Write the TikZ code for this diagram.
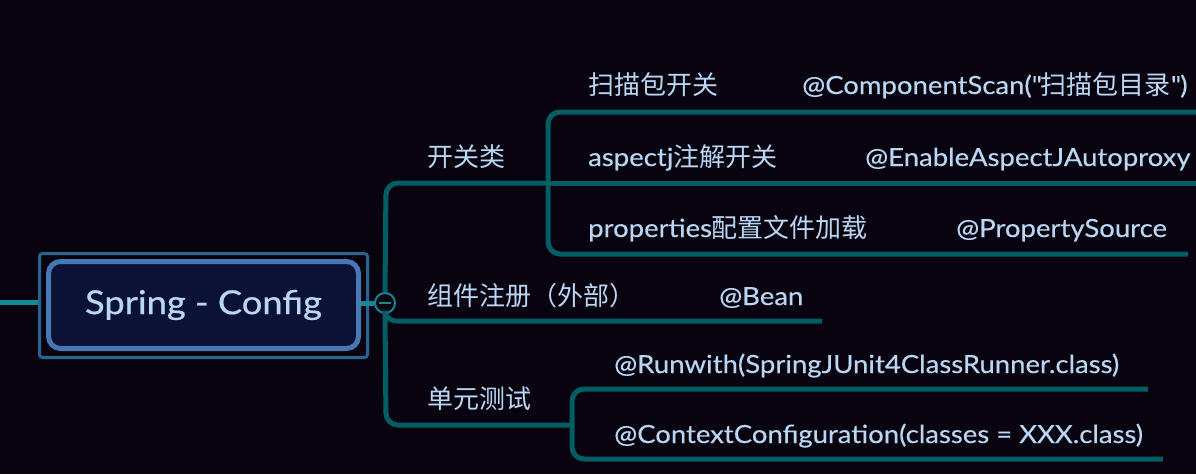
\documentclass[tikz,border=0pt]{standalone}
\usepackage{fontspec}
\setmainfont{Lato}[FakeStretch=1.1]
\newfontfamily\cjk{Noto Sans CJK SC}[Scale=1.04]
\newcommand{\zh}[1]{{\cjk #1}}
\definecolor{bg}{RGB}{8,3,15}
\definecolor{br}{RGB}{0,94,100}
\definecolor{rootln}{RGB}{20,135,150}
\definecolor{txt}{RGB}{185,215,245}
\definecolor{frame}{RGB}{40,100,145}
\definecolor{rootbd}{RGB}{72,120,180}
\definecolor{rootfill}{RGB}{12,18,54}
\begin{document}
\begin{tikzpicture}[x=1pt,y=-1pt,
  lbl/.style={anchor=base west, text=txt, font=\fontsize{25}{29}\selectfont\addfontfeature{FakeBold=0.3}, inner sep=0pt},
  branch/.style={draw=br, line width=5pt, rounded corners=12pt},
  rootline/.style={draw=rootln, line width=5pt}]
\fill[bg] (0,0) rectangle (1196,474);
\useasboundingbox (0,0) rectangle (1196,474);
% root
\node[draw=frame, line width=3pt, rounded corners=3pt, minimum width=328pt, minimum height=104pt] (rootframe) at (203.5,305.5) {};
\node[draw=rootbd, fill=rootfill, line width=5pt, rounded corners=12pt, minimum width=310pt, minimum height=87pt, text=txt, font=\fontsize{33}{38}\selectfont\addfontfeature{FakeBold=0.6}] (root) at (203.5,305) {Spring - Config};
\coordinate (lin) at (0,302);
\draw[rootline] (lin) -- (rootframe.west |- lin);
% collapse circle
\node[circle, draw=rootln, fill=bg, line width=2pt, minimum size=20pt, inner sep=0pt] (col) at (385,303) {};
\draw[rootline] (root.east |- col) -- (col.west);
\draw[draw=rootln, line width=1.6pt] ([xshift=-6pt]col.center) -- ([xshift=6pt]col.center);
% coordinates
\coordinate (kg) at (548,183);
\coordinate (dy) at (572,425);
\coordinate (zj) at (822,321);
% trunk
\draw[branch] (col.north) -- (386,183) -- (kg);
\draw[branch] (col.south) -- (386,425) -- (dy);
\draw[branch, rounded corners=10pt] (col.south) -- (386,321) -- (zj);
% switch bracket
\coordinate (s1) at (1200,112);
\coordinate (s2) at (1200,183);
\coordinate (s3) at (1188,254);
\draw[branch] (s1) -- (548,112) -- (kg) -- (548,254) -- (s3);
\draw[branch] (kg) -- (s2);
% test bracket
\coordinate (t1) at (1148,389);
\coordinate (t2) at (1163,459);
\draw[branch] (t1) -- (572,389) -- (dy) -- (572,459) -- (t2);
% labels
\node[lbl] (l1) at (427,166) {\zh{开关类}};
\node[lbl] (l2) at (588,94) {\zh{扫描包开关}};
\node[lbl] (l3) at (802,94) {@ComponentScan(\textquotedbl\zh{扫描包目录}\textquotedbl)};
\node[lbl] (l4) at (588,166) {aspectj\zh{注解开关}};
\node[lbl] (l5) at (865,166) {@EnableAspectJAutoproxy};
\node[lbl] (l6) at (588,237) {properties\zh{配置文件加载}};
\node[lbl] (l7) at (956,237) {@PropertySource};
\node[lbl] (l8) at (427,305) {\zh{组件注册（外部）}};
\node[lbl] (l9) at (719,305) {@Bean};
\node[lbl] (l10) at (427,408) {\zh{单元测试}};
\node[lbl] (l11) at (614,373) {@Runwith(SpringJUnit4ClassRunner.class)};
\node[lbl] (l12) at (614,443) {@ContextConfiguration(classes = XXX.class)};
\end{tikzpicture}
\end{document}
